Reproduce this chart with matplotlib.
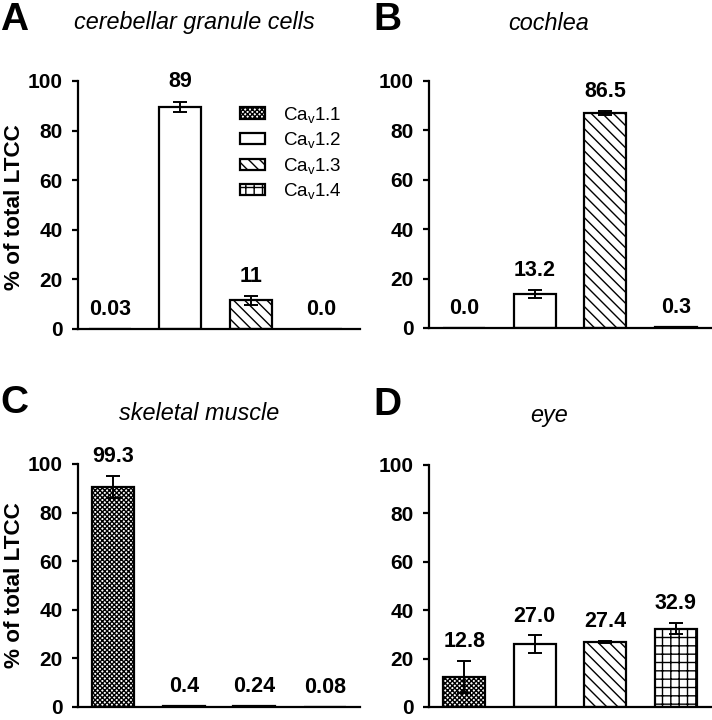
import matplotlib
matplotlib.use("Agg")
import matplotlib.pyplot as plt

plt.rcParams['font.family'] = ['Liberation Sans', 'DejaVu Sans']
plt.rcParams['mathtext.default'] = 'regular'
plt.rcParams['hatch.linewidth'] = 1.0

# ---------------- data ----------------
channels = ['Ca$_{v}$1.1', 'Ca$_{v}$1.2', 'Ca$_{v}$1.3', 'Ca$_{v}$1.4']

titles = ['cerebellar granule cells', 'cochlea', 'skeletal muscle', 'eye']
panel_letters = ['A', 'B', 'C', 'D']

cgc_values = [0.03, 89.5, 11.5, 0.0]
cgc_errors = [0.0, 2.2, 1.8, 0.0]
cgc_labels = ['0.03', '89', '11', '0.0']

cochlea_values = [0.0, 13.8, 87.0, 0.5]
cochlea_errors = [0.0, 1.5, 0.8, 0.0]
cochlea_labels = ['0.0', '13.2', '86.5', '0.3']

muscle_values = [90.5, 0.4, 0.24, 0.08]
muscle_errors = [4.5, 0.0, 0.0, 0.0]
muscle_labels = ['99.3', '0.4', '0.24', '0.08']

eye_values = [12.5, 26.0, 26.8, 32.4]
eye_errors = [6.7, 3.6, 0.5, 2.4]
eye_labels = ['12.8', '27.0', '27.4', '32.9']

yticks = [0, 20, 40, 60, 80, 100]
ylabel = '% of total LTCC'

# ---------------- styles ----------------
faces = ['white', 'white', 'white', 'white']
hatches = ['xxxxxxx', '', '\\\\\\', '++']

W, H = 712, 720
fig = plt.figure(figsize=(W / 100, H / 100), dpi=100)

def frac(x0, y_top, x1, y_bot):
    return [x0 / W, 1 - y_bot / H, (x1 - x0) / W, (y_bot - y_top) / H]

axes_px = [
    (78, 81, 360, 329),
    (429, 81, 711, 328),
    (78, 464, 360, 707),
    (429, 465, 711, 707),
]
title_px = [(194, 22), (549, 24), (199, 413), (549, 416)]
letter_px = [(0, 20), (373, 20), (0, 403), (373, 405)]
ylabel_px = [(15, 207), None, (15, 585), None]

panels = [
    (cgc_values, cgc_errors, cgc_labels),
    (cochlea_values, cochlea_errors, cochlea_labels),
    (muscle_values, muscle_errors, muscle_labels),
    (eye_values, eye_errors, eye_labels),
]

xpos = list(range(len(channels)))
for i, (vals, errs, labs) in enumerate(panels):
    ax = fig.add_axes(frac(*axes_px[i]))
    bars = ax.bar(xpos, vals, width=0.6, color=faces, edgecolor='black',
                  linewidth=1.6, hatch=hatches, zorder=2)
    for x, v, e in zip(xpos, vals, errs):
        if e > 0:
            ax.errorbar(x, v, yerr=e, fmt='none', ecolor='black',
                        elinewidth=1.4, capsize=5, capthick=1.4, zorder=3)
    for x, v, e, t in zip(xpos, vals, errs, labs):
        ax.text(x, v + e + 8, t, ha='center', va='center',
                fontsize=15.5, fontweight='bold', zorder=4)
    if i == 0:
        ax.set_xlim(-0.45, 3.55)
    else:
        ax.set_xlim(-0.5, 3.5)
    ax.set_ylim(0, 100)
    ax.set_yticks(yticks)
    ax.set_xticks([])
    for s in ['top', 'right']:
        ax.spines[s].set_visible(False)
    for s in ['left', 'bottom']:
        ax.spines[s].set_linewidth(1.6)
    ax.tick_params(axis='y', direction='out', length=4, width=1.6, pad=7,
                   labelsize=15)
    for lab in ax.get_yticklabels():
        lab.set_fontweight('bold')
    ax.patch.set_alpha(0)

    tx, ty = title_px[i]
    fig.text(tx / W, 1 - ty / H, titles[i], ha='center', va='center',
             fontsize=16.8, style='italic')
    lx, ly = letter_px[i]
    fig.text(lx / W, 1 - ly / H, panel_letters[i], ha='left', va='center',
             fontsize=28, fontweight='bold')
    if ylabel_px[i] is not None:
        yx, yy = ylabel_px[i]
        fig.text(yx / W, 1 - yy / H, ylabel, ha='center', va='center',
                 rotation=90, fontsize=16.2, fontweight='bold')

    if i == 0:
        ax.legend(bars, channels, loc='upper left',
                  bbox_to_anchor=(0.575, 0.905), frameon=False,
                  fontsize=13.5, handlelength=1.3, handleheight=0.55,
                  handletextpad=1.0, labelspacing=0.3, borderpad=0,
                  borderaxespad=0)

fig.savefig('out.png', dpi=100)
